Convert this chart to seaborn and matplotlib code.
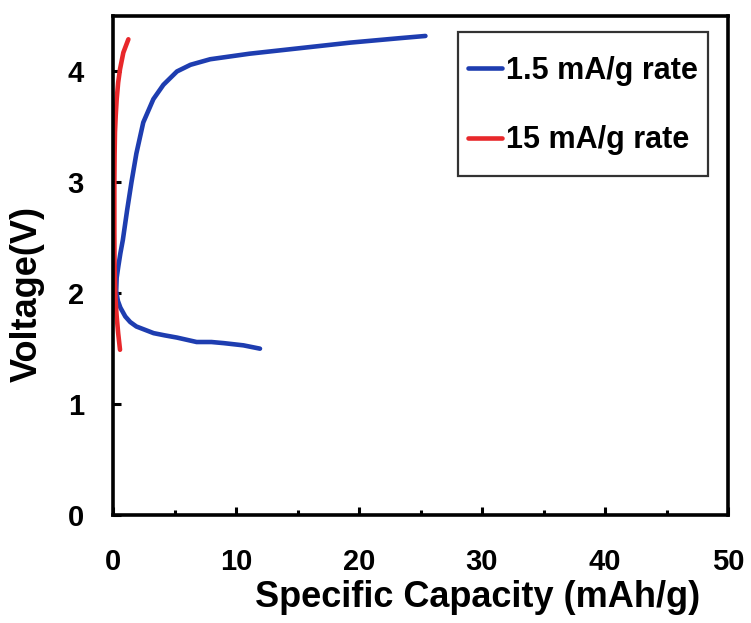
import matplotlib
matplotlib.use("Agg")
import matplotlib.pyplot as plt
from matplotlib.ticker import MultipleLocator
import numpy as np
import pandas as pd
import seaborn as sns

# Galvanostatic profiles: specific capacity (mAh/g) vs cell voltage (V)
series_names = ["1.5 mA/g rate", "15 mA/g rate"]
series_colors = ["#1e3db0", "#e8282b"]

cap_slow = [11.95, 10.6, 9.0, 8.0, 6.8, 5.2, 4.2, 3.3, 2.6, 1.9, 1.4, 1.0, 0.6, 0.4, 0.26,
            0.3, 0.43, 0.6, 0.8, 1.15, 1.5, 1.9, 2.46, 3.28, 4.1, 5.2, 6.3, 7.9, 11.1,
            15.2, 19.3, 23.3, 25.4]
volt_slow = [1.50, 1.53, 1.55, 1.56, 1.56, 1.60, 1.62, 1.64, 1.67, 1.70, 1.74, 1.79, 1.87, 1.93, 2.02,
             2.14, 2.24, 2.36, 2.48, 2.75, 3.00, 3.26, 3.54, 3.75, 3.88, 4.00, 4.06, 4.11, 4.16,
             4.21, 4.26, 4.30, 4.32]

cap_fast = [0.57, 0.42, 0.30, 0.20, 0.16, 0.12, 0.11, 0.11, 0.11, 0.13, 0.16, 0.22, 0.30,
            0.42, 0.57, 0.84, 1.25]
volt_fast = [1.49, 1.64, 1.79, 1.95, 2.09, 2.30, 2.55, 2.80, 3.00, 3.25, 3.45, 3.60, 3.75,
             3.90, 4.02, 4.17, 4.29]

x_ticks = [0, 10, 20, 30, 40, 50]
y_ticks = [0, 1, 2, 3, 4]

df = pd.concat([
    pd.DataFrame({"cap": cap_slow, "volt": volt_slow, "rate": series_names[0]}),
    pd.DataFrame({"cap": cap_fast, "volt": volt_fast, "rate": series_names[1]}),
], ignore_index=True)

sns.set_style("ticks")
plt.rcParams["font.family"] = ["Liberation Sans", "DejaVu Sans"]
plt.rcParams["font.weight"] = "bold"
for key in ["text.color", "axes.labelcolor", "xtick.color", "ytick.color", "axes.edgecolor"]:
    plt.rcParams[key] = "black"

fig = plt.figure(figsize=(7.51, 6.23), dpi=100)
fig.subplots_adjust(left=113 / 751, right=728 / 751, bottom=(623 - 515) / 623, top=(623 - 16) / 623)
ax = fig.add_subplot(111)

sns.lineplot(data=df, x="cap", y="volt", hue="rate", hue_order=series_names,
             palette=series_colors, sort=False, estimator=None,
             linewidth=3.3, ax=ax)
for line in ax.get_lines():
    line.set_solid_joinstyle("round")
    line.set_solid_capstyle("round")

ax.set_xlim(0, 50)
ax.set_ylim(0, 4.5)
ax.set_xticks(x_ticks)
ax.set_yticks(y_ticks)
ax.xaxis.set_minor_locator(MultipleLocator(5))

for side in ["left", "right", "top", "bottom"]:
    ax.spines[side].set_visible(True)
    ax.spines[side].set_linewidth(2.6)
    ax.spines[side].set_color("black")

ax.tick_params(axis="both", which="major", direction="in", length=5.5, width=2.2,
               labelsize=21, color="black", labelcolor="black")
ax.tick_params(axis="x", which="major", pad=24)
ax.tick_params(axis="y", which="major", pad=21)
ax.tick_params(axis="x", which="minor", direction="in", length=3.5, width=2.2, color="black")
ax.tick_params(axis="y", which="minor", left=False)
for lab in ax.get_xticklabels() + ax.get_yticklabels():
    lab.set_fontweight("bold")

ax.set_xlabel("Specific Capacity (mAh/g)", fontsize=26, fontweight="bold", color="black")
ax.set_ylabel("Voltage(V)", fontsize=26, fontweight="bold", color="black")
ax.xaxis.set_label_coords((478 - 113) / 615, (515 - 607) / 499)
ax.xaxis.label.set_va("baseline")
ax.yaxis.set_label_coords((45 - 113) / 615, (515 - 294) / 499)

handles, labels = ax.get_legend_handles_labels()
leg = ax.legend(handles, labels, loc="upper right", bbox_to_anchor=(0.9675, 0.968),
                borderaxespad=0, frameon=True, fancybox=False, edgecolor="black",
                prop={"size": 22, "weight": "bold"}, handlelength=1.1, handletextpad=0.12,
                handleheight=2.35, labelspacing=0.5, borderpad=0.34)
leg.get_frame().set_linewidth(1.6)
for line in leg.get_lines():
    line.set_linewidth(3.3)
    # sit the handle level with the middle of the label text
    line.set_ydata(np.asarray(line.get_ydata(), dtype=float) - 5.6)
for txt in leg.get_texts():
    txt.set_color("black")

fig.savefig("out.png", dpi=100, facecolor="white")
